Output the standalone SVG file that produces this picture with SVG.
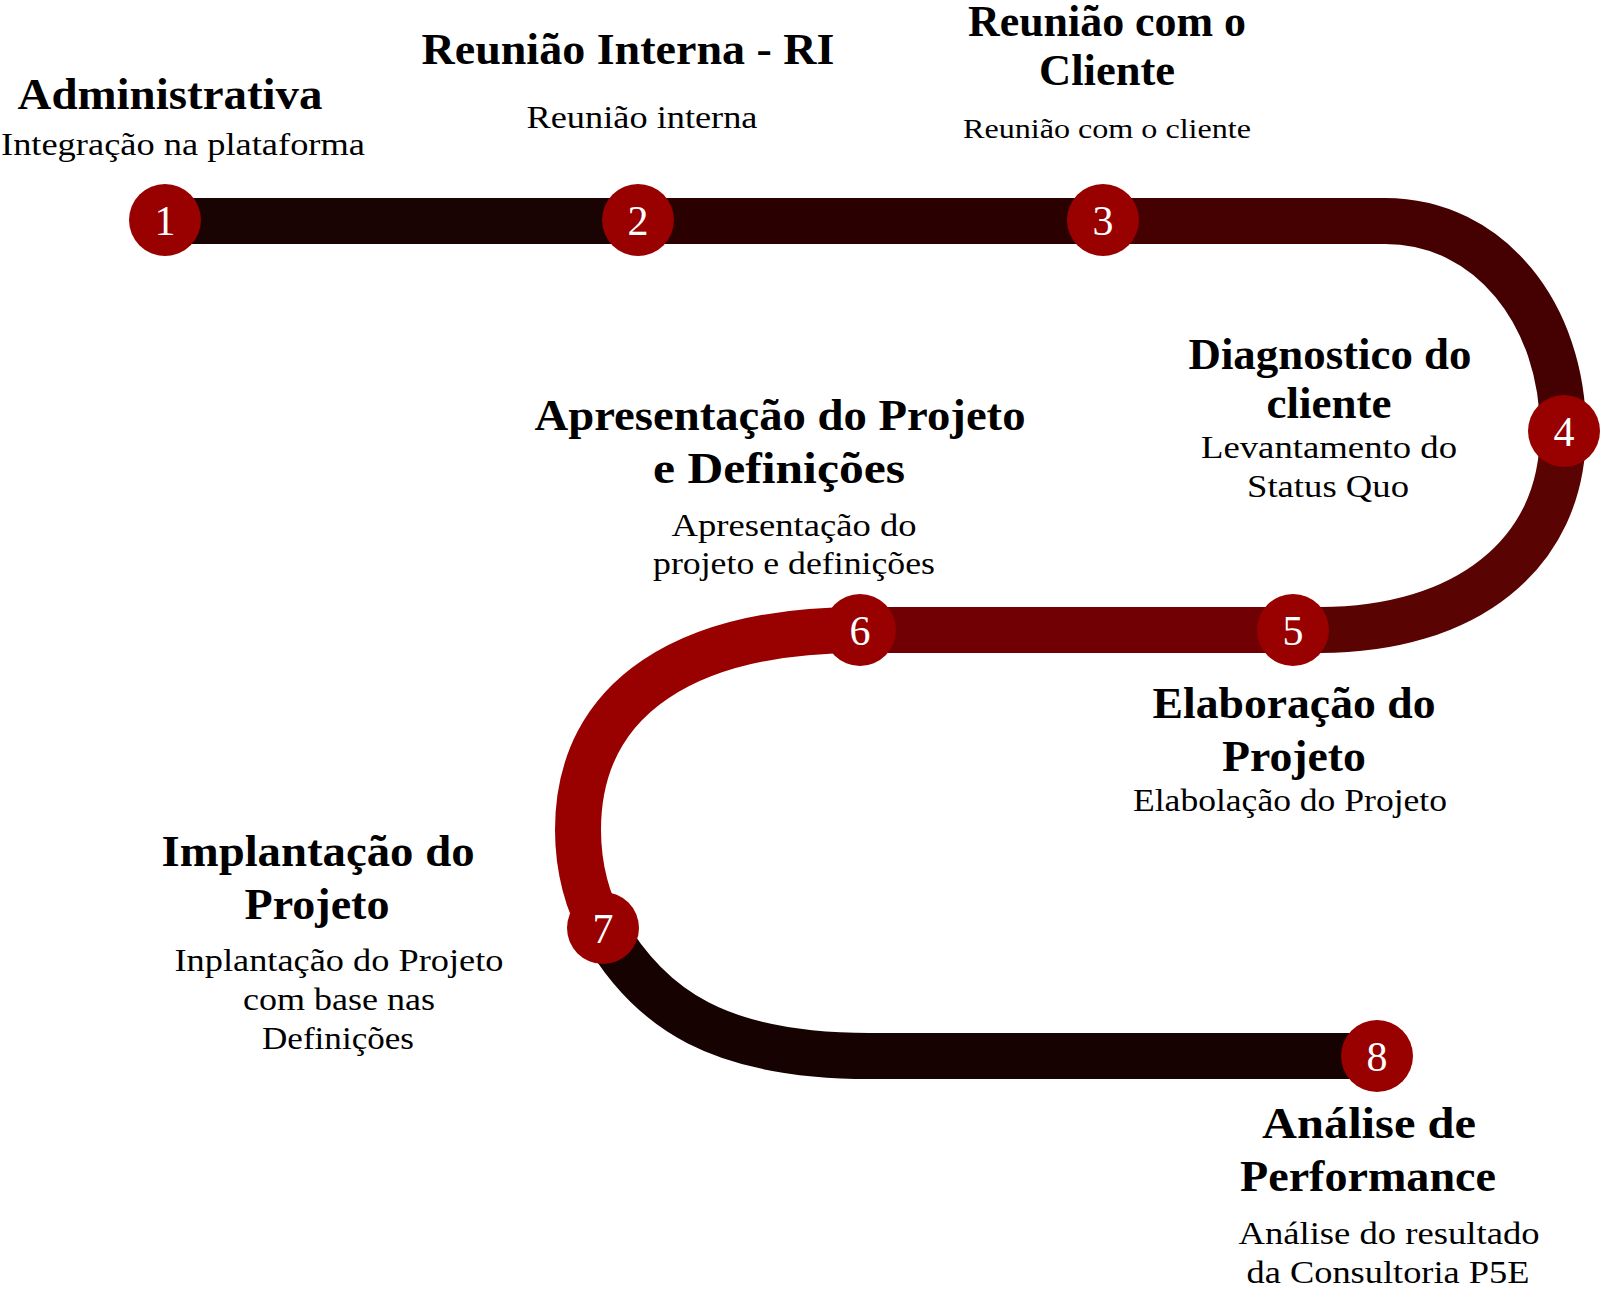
<svg xmlns="http://www.w3.org/2000/svg" width="1600" height="1293" viewBox="0 0 1600 1293">
<style>
.band{fill:none;stroke-width:46;stroke-linecap:butt}
.dot{fill:#990000}
.num{font-family:"Liberation Serif","DejaVu Serif",serif;font-size:42px;fill:#ffffff;text-anchor:middle}
.t{font-family:"Liberation Serif","DejaVu Serif",serif;font-size:44px;font-weight:bold;fill:#000;text-anchor:middle}
.s{font-family:"Liberation Serif","DejaVu Serif",serif;font-size:31px;fill:#000;text-anchor:middle}
</style>
<rect width="1600" height="1293" fill="#ffffff"/>
<g id="connectors">
<path class="band" stroke="#1a0303" d="M165,221 H638"/>
<path class="band" stroke="#2b0001" d="M638,221 H1103"/>
<path class="band" stroke="#450002" d="M1103,221 H1385 C1490,221 1563,315 1563,431"/>
<path class="band" stroke="#5a0303" d="M1563,431 C1563,555 1465,630 1320,630 H1293"/>
<path class="band" stroke="#700004" d="M1293,630 H860"/>
<path class="band" stroke="#990000" d="M860,630 C690,630 578,695 578,830 C578,868 588,905 603,928"/>
<path class="band" stroke="#170202" d="M603,928 C650,1010 720,1056 870,1056 H1377"/>
</g>
<g id="node1">
<circle class="dot" cx="165" cy="220" r="36"/>
<text class="num" x="165" y="235">1</text>
<text class="t" x="170" y="109" textLength="305" lengthAdjust="spacingAndGlyphs">Administrativa</text>
<text class="s" x="183" y="155" textLength="364" lengthAdjust="spacingAndGlyphs">Integração na plataforma</text>
</g>
<g id="node2">
<circle class="dot" cx="638" cy="220" r="36"/>
<text class="num" x="638" y="235">2</text>
<text class="t" x="628" y="64" textLength="413" lengthAdjust="spacingAndGlyphs">Reunião Interna - RI</text>
<text class="s" x="642" y="128" textLength="231" lengthAdjust="spacingAndGlyphs">Reunião interna</text>
</g>
<g id="node3">
<circle class="dot" cx="1103" cy="220" r="36"/>
<text class="num" x="1103" y="235">3</text>
<text class="t" x="1107" y="36" textLength="278" lengthAdjust="spacingAndGlyphs">Reunião com o</text>
<text class="t" x="1107" y="85" textLength="136" lengthAdjust="spacingAndGlyphs">Cliente</text>
<text class="s" x="1107" y="138" style="font-size:28px" textLength="288" lengthAdjust="spacingAndGlyphs">Reunião com o cliente</text>
</g>
<g id="node4">
<circle class="dot" cx="1564" cy="431" r="36"/>
<text class="num" x="1564" y="446">4</text>
<text class="t" x="1330" y="369" textLength="283" lengthAdjust="spacingAndGlyphs">Diagnostico do</text>
<text class="t" x="1329" y="418" textLength="125" lengthAdjust="spacingAndGlyphs">cliente</text>
<text class="s" x="1329" y="458" textLength="256" lengthAdjust="spacingAndGlyphs">Levantamento do</text>
<text class="s" x="1328" y="497" textLength="162" lengthAdjust="spacingAndGlyphs">Status Quo</text>
</g>
<g id="node5">
<circle class="dot" cx="1293" cy="630" r="36"/>
<text class="num" x="1293" y="645">5</text>
<text class="t" x="1294" y="718" textLength="283" lengthAdjust="spacingAndGlyphs">Elaboração do</text>
<text class="t" x="1294" y="771" textLength="144" lengthAdjust="spacingAndGlyphs">Projeto</text>
<text class="s" x="1290" y="811" textLength="314" lengthAdjust="spacingAndGlyphs">Elabolação do Projeto</text>
</g>
<g id="node6">
<circle class="dot" cx="860" cy="630" r="36"/>
<text class="num" x="860" y="645">6</text>
<text class="t" x="780" y="430" textLength="491" lengthAdjust="spacingAndGlyphs">Apresentação do Projeto</text>
<text class="t" x="779" y="483" textLength="252" lengthAdjust="spacingAndGlyphs">e Definições</text>
<text class="s" x="794" y="536" textLength="245" lengthAdjust="spacingAndGlyphs">Apresentação do</text>
<text class="s" x="794" y="574" textLength="282" lengthAdjust="spacingAndGlyphs">projeto e definições</text>
</g>
<g id="node7">
<circle class="dot" cx="603" cy="928" r="36"/>
<text class="num" x="603" y="943">7</text>
<text class="t" x="318" y="866" textLength="313" lengthAdjust="spacingAndGlyphs">Implantação do</text>
<text class="t" x="317" y="919" textLength="145" lengthAdjust="spacingAndGlyphs">Projeto</text>
<text class="s" x="339" y="971" textLength="329" lengthAdjust="spacingAndGlyphs">Inplantação do Projeto</text>
<text class="s" x="339" y="1010" textLength="192" lengthAdjust="spacingAndGlyphs">com base nas</text>
<text class="s" x="338" y="1049" textLength="152" lengthAdjust="spacingAndGlyphs">Definições</text>
</g>
<g id="node8">
<circle class="dot" cx="1377" cy="1056" r="36"/>
<text class="num" x="1377" y="1071">8</text>
<text class="t" x="1369" y="1138" textLength="214" lengthAdjust="spacingAndGlyphs">Análise de</text>
<text class="t" x="1368" y="1191" textLength="256" lengthAdjust="spacingAndGlyphs">Performance</text>
<text class="s" x="1389" y="1244" textLength="301" lengthAdjust="spacingAndGlyphs">Análise do resultado</text>
<text class="s" x="1388" y="1283" textLength="283" lengthAdjust="spacingAndGlyphs">da Consultoria P5E</text>
</g>
</svg>
